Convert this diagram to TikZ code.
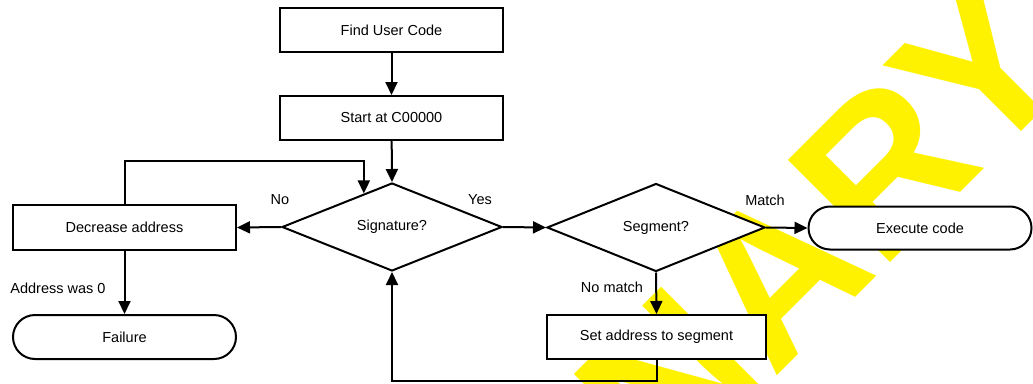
\documentclass[tikz,border=0pt]{standalone}
\usepackage{fontspec}
\setmainfont{Liberation Sans}
\usetikzlibrary{shapes.geometric,shapes.misc,arrows.meta}
\tikzset{
  base/.style={draw=black, line width=2pt, fill=white, inner sep=0pt, font=\fontsize{14.5}{17}\selectfont},
  procbox/.style={base, rectangle, minimum width=223pt, minimum height=44pt},
  decision/.style={base, diamond, minimum width=220pt, minimum height=88pt},
  terminal/.style={base, rounded rectangle, minimum width=223pt, minimum height=43pt},
  arr/.style={line width=2pt, -{Triangle[length=13pt,width=12pt]}},
  lbl/.style={inner sep=0pt, font=\fontsize{14.5}{17}\selectfont},
  watermark/.style={inner sep=0pt, text=yellow, font=\fontsize{210}{210}\selectfont\bfseries}
}
\begin{document}
\begin{tikzpicture}[x=1pt,y=-1pt]
\useasboundingbox (0,0) rectangle (1033,383);
\begin{scope}
  \clip (0,0) rectangle (1033,383);
  \node[watermark, rotate=45, anchor=base west] (wm) at (64,1089) {PRELIMINARY};
\end{scope}

\node[procbox] (find) at (391.5,30) {Find User Code};
\node[procbox] (start) at (391.5,118) {Start at C00000};
\node[decision] (sig) at (392,227) {Signature?};
\node[decision, minimum width=218pt] (seg) at (656,227.5) {Segment?};
\node[terminal] (exec) at (920,228) {Execute code};
\node[procbox, minimum height=45pt] (dec) at (124.5,227.5) {Decrease address};
\node[terminal, minimum height=44pt] (fail) at (124.5,337) {Failure};
\node[procbox, minimum width=219pt] (setaddr) at (656.5,337) {Set address to segment};

\draw[arr] (find) -- (start);
\draw[arr] (start) -- (sig.north);
\draw[arr] (dec.north) -- ++(0,-43) -| (sig.130);
\draw[arr] (sig.west) -- (dec.east);
\draw[arr] (sig.east) -- (seg.west);
\draw[arr] (seg.east) -- (exec.west);
\draw[arr] (seg.south) -- (setaddr.north);
\draw[arr] (setaddr.south) -- ++(0,21) -| (sig.south);
\draw[arr] (dec.south) -- (fail.north);

\node[lbl] (lno) at (280,200) {No};
\node[lbl] (lyes) at (480,200) {Yes};
\node[lbl] (lmatch) at (765,200) {Match};
\node[lbl] (lnomatch) at (612,287) {No match};
\node[lbl] (laddr) at (58,288) {Address was 0};
\end{tikzpicture}
\end{document}
